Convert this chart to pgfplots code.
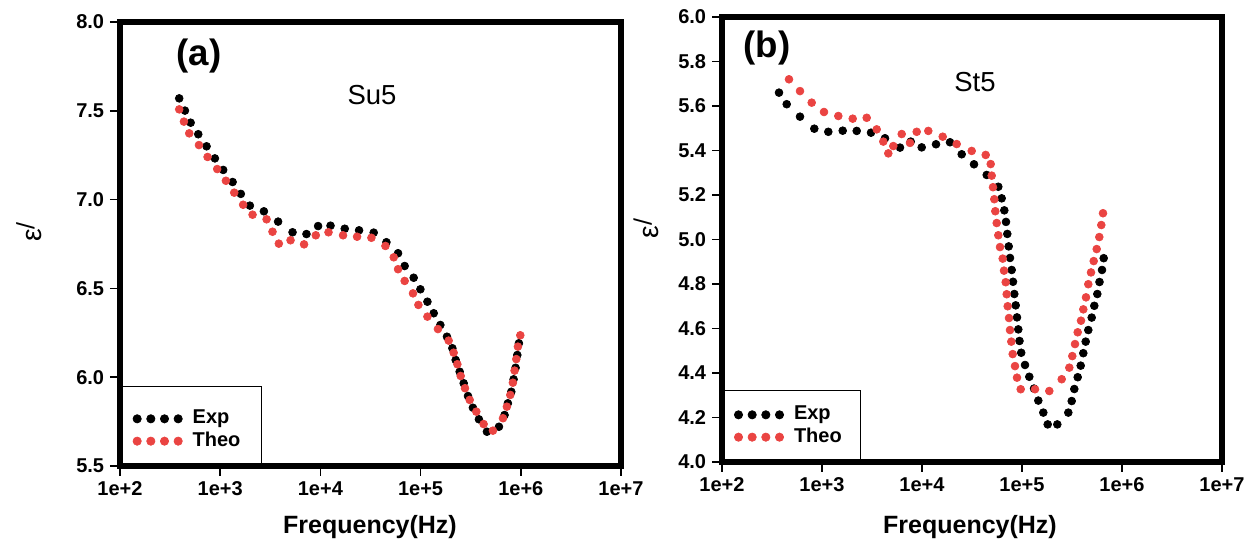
\documentclass[border=0pt]{standalone}
\usepackage{fontspec}
\setmainfont{Liberation Sans}
\usepackage{pgfplots}
\pgfplotsset{compat=1.18}
\definecolor{theored}{RGB}{234,68,66}

\pgfplotsset{
  panel/.style={
    scale only axis,
    xmin=2, xmax=7,
    xtick={2,3,4,5,6,7},
    xticklabels={1e+2,1e+3,1e+4,1e+5,1e+6,1e+7},
    xtick pos=bottom, ytick pos=left,
    tick align=outside,
    major tick length=6pt,
    axis line style={line width=3.2pt},
    tick style={black, line width=0.9pt},
    tick label style={font=\fontsize{12}{14}\selectfont\bfseries},
    /pgf/number format/assume math mode=true,
    yticklabel style={/pgf/number format/.cd, fixed, fixed zerofill, precision=1},
    xlabel={Frequency(Hz)},
    xlabel style={font=\fontsize{15}{18}\selectfont\bfseries, anchor=center},
    ylabel={ε\raisebox{0.45ex}{\fontsize{15}{15}\selectfont /}},
    ylabel style={font=\fontsize{17}{20}\selectfont, anchor=center},
    legend cell align=left,
    legend style={draw=none, fill=none, inner sep=0pt,
      font=\fontsize{12}{14}\selectfont\bfseries,
      nodes={inner sep=1pt, text height=8.8pt, text depth=2.6pt},
      row sep=0pt, column sep=5pt},
  },
  exp/.style={only marks, mark=*, mark size=2.35pt, black,
    legend image code/.code={\foreach \k in {0,1,2,3}{\fill[black] (\k*8.2pt,0pt) circle (2.5pt);}}},
  theo/.style={only marks, mark=*, mark size=2.35pt, theored,
    legend image code/.code={\foreach \k in {0,1,2,3}{\fill[theored] (\k*8.2pt,0pt) circle (2.5pt);}}},
}

\begin{document}
\begin{tikzpicture}
\path[use as bounding box] (0pt,0pt) rectangle (750pt,325.8pt);

% ---------------- (a) Su5 ----------------
\begin{axis}[panel,
  at={(72pt,46.2pt)}, anchor=south west,
  width=300.6pt, height=266.4pt,
  ymin=5.5, ymax=8.0, ytick={5.5,6.0,6.5,7.0,7.5,8.0},
  xlabel style={at={(rel axis cs:0.499,-0.137)}},
  ylabel style={at={(rel axis cs:-0.182,0.527)}},
  legend style={at={(rel axis cs:0,0)}, anchor=south west, xshift=7.4pt, yshift=8pt},
]
\addplot[exp] table[row sep=\\] {
x y\\
2.591 7.570\\ 2.648 7.501\\ 2.705 7.433\\ 2.781 7.368\\ 2.864 7.300\\
2.947 7.232\\ 3.030 7.167\\ 3.124 7.099\\ 3.206 7.032\\ 3.296 6.966\\
3.436 6.934\\ 3.578 6.876\\ 3.722 6.816\\ 3.861 6.806\\ 3.977 6.851\\
4.101 6.853\\ 4.243 6.836\\ 4.386 6.827\\ 4.532 6.814\\ 4.659 6.760\\
4.775 6.698\\ 4.841 6.626\\ 4.931 6.560\\ 4.998 6.495\\ 5.068 6.425\\
5.131 6.360\\ 5.197 6.294\\ 5.263 6.228\\ 5.317 6.163\\ 5.350 6.097\\
5.390 6.031\\ 5.430 5.966\\ 5.473 5.894\\ 5.522 5.828\\ 5.582 5.763\\
5.662 5.693\\ 5.782 5.721\\ 5.838 5.787\\ 5.871 5.853\\ 5.905 5.918\\
5.928 5.988\\ 5.948 6.053\\ 5.965 6.125\\ 5.981 6.191\\
};
\addlegendentry{Exp}
\addplot[theo] table[row sep=\\] {
x y\\
2.591 7.508\\ 2.638 7.439\\ 2.691 7.373\\ 2.788 7.307\\ 2.874 7.240\\
2.970 7.172\\ 3.057 7.106\\ 3.140 7.039\\ 3.229 6.971\\ 3.323 6.915\\
3.463 6.889\\ 3.522 6.819\\ 3.585 6.752\\ 3.702 6.771\\ 3.837 6.748\\
3.954 6.799\\ 4.081 6.816\\ 4.226 6.799\\ 4.366 6.791\\ 4.509 6.785\\
4.649 6.739\\ 4.732 6.675\\ 4.775 6.608\\ 4.841 6.542\\ 4.924 6.472\\
4.978 6.407\\ 5.068 6.341\\ 5.173 6.271\\ 5.280 6.206\\ 5.330 6.138\\
5.367 6.073\\ 5.400 6.007\\ 5.443 5.938\\ 5.490 5.872\\ 5.556 5.806\\
5.629 5.736\\ 5.722 5.699\\ 5.822 5.769\\ 5.861 5.834\\ 5.895 5.900\\
5.921 5.969\\ 5.938 6.037\\ 5.955 6.102\\ 5.971 6.172\\ 5.995 6.236\\
};
\addlegendentry{Theo}
\draw[line width=0.6pt] (rel axis cs:0,0) rectangle (rel axis cs:0.283,0.178);
\node[font=\fontsize{22}{24}\selectfont\bfseries] at (rel axis cs:0.158,0.923) {(a)};
\node[font=\fontsize{16.5}{18}\selectfont] at (rel axis cs:0.503,0.836) {Su5};
\end{axis}

% ---------------- (b) St5 ----------------
\begin{axis}[panel,
  at={(433.2pt,48.6pt)}, anchor=south west,
  width=300pt, height=267pt,
  ymin=4.0, ymax=6.0, ytick={4.0,4.2,4.4,4.6,4.8,5.0,5.2,5.4,5.6,5.8,6.0},
  xlabel style={at={(rel axis cs:0.496,-0.146)}},
  ylabel style={at={(rel axis cs:-0.152,0.524)}},
  legend style={at={(rel axis cs:0,0)}, anchor=south west, xshift=7pt, yshift=8pt},
]
\addplot[exp] table[row sep=\\] {
x y\\
2.570 5.660\\ 2.647 5.608\\ 2.780 5.552\\ 2.923 5.498\\ 3.063 5.484\\
3.207 5.489\\ 3.347 5.488\\ 3.490 5.480\\ 3.630 5.455\\ 3.780 5.413\\
3.887 5.440\\ 3.997 5.414\\ 4.140 5.428\\ 4.280 5.437\\ 4.397 5.383\\
4.520 5.338\\ 4.647 5.290\\ 4.763 5.237\\ 4.797 5.185\\ 4.823 5.131\\
4.840 5.079\\ 4.853 5.025\\ 4.867 4.969\\ 4.880 4.917\\ 4.897 4.863\\
4.910 4.810\\ 4.923 4.755\\ 4.937 4.704\\ 4.950 4.650\\ 4.963 4.596\\
4.975 4.544\\ 4.992 4.491\\ 5.030 4.436\\ 5.073 4.383\\ 5.120 4.330\\
5.163 4.276\\ 5.213 4.222\\ 5.257 4.169\\ 5.353 4.169\\ 5.463 4.222\\
5.497 4.274\\ 5.523 4.328\\ 5.557 4.381\\ 5.587 4.433\\ 5.613 4.489\\
5.637 4.541\\ 5.663 4.593\\ 5.697 4.649\\ 5.723 4.702\\ 5.753 4.755\\
5.775 4.809\\ 5.800 4.863\\ 5.817 4.916\\
};
\addlegendentry{Exp}
\addplot[theo] table[row sep=\\] {
x y\\
2.670 5.720\\ 2.780 5.667\\ 2.897 5.615\\ 3.020 5.573\\ 3.163 5.555\\
3.307 5.543\\ 3.447 5.547\\ 3.547 5.495\\ 3.613 5.440\\ 3.663 5.387\\
3.713 5.420\\ 3.797 5.474\\ 3.880 5.434\\ 3.947 5.484\\ 4.063 5.488\\
4.207 5.462\\ 4.347 5.429\\ 4.497 5.398\\ 4.637 5.380\\ 4.687 5.339\\
4.697 5.287\\ 4.710 5.235\\ 4.723 5.181\\ 4.733 5.127\\ 4.747 5.074\\
4.763 5.019\\ 4.780 4.966\\ 4.807 4.914\\ 4.820 4.860\\ 4.837 4.808\\
4.847 4.754\\ 4.857 4.700\\ 4.870 4.647\\ 4.880 4.593\\ 4.893 4.541\\
4.907 4.485\\ 4.930 4.431\\ 4.950 4.379\\ 4.987 4.327\\ 5.130 4.327\\
5.273 4.319\\ 5.397 4.372\\ 5.473 4.424\\ 5.503 4.476\\ 5.530 4.530\\
5.557 4.583\\ 5.590 4.635\\ 5.613 4.686\\ 5.640 4.740\\ 5.663 4.799\\
5.690 4.852\\ 5.717 4.903\\ 5.747 4.957\\ 5.773 5.011\\ 5.793 5.065\\
5.810 5.118\\
};
\addlegendentry{Theo}
\draw[line width=0.6pt] (rel axis cs:0,0) rectangle (rel axis cs:0.276,0.16);
\node[font=\fontsize{22}{24}\selectfont\bfseries] at (rel axis cs:0.09,0.93) {(b)};
\node[font=\fontsize{16.5}{18}\selectfont] at (rel axis cs:0.506,0.854) {St5};
\end{axis}
\end{tikzpicture}
\end{document}
